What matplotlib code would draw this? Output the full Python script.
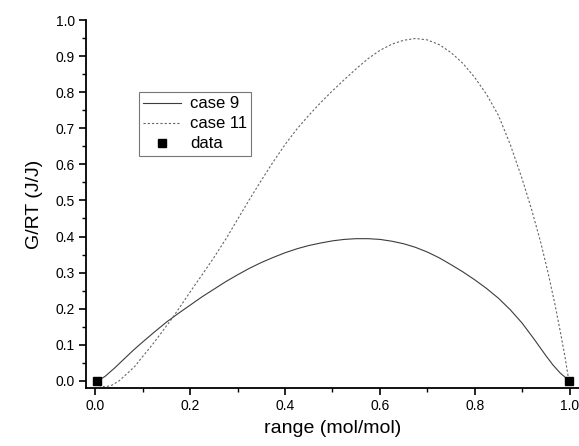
import matplotlib
matplotlib.use("Agg")
import matplotlib.pyplot as plt
from matplotlib.ticker import MultipleLocator

plt.rcParams['font.family'] = ['Liberation Sans', 'DejaVu Sans']

case9_x = [0.005, 0.02, 0.04, 0.06, 0.08, 0.1, 0.125, 0.15, 0.175, 0.2, 0.225, 0.25, 0.275,
           0.3, 0.325, 0.35, 0.375, 0.4, 0.425, 0.45, 0.475, 0.5, 0.525, 0.55, 0.575, 0.6,
           0.625, 0.65, 0.675, 0.7, 0.725, 0.75, 0.775, 0.8, 0.825, 0.85, 0.875, 0.9, 0.925,
           0.95, 0.965, 0.98, 0.995]
case9_y = [0.0, 0.012, 0.035, 0.06, 0.085, 0.108, 0.136, 0.163, 0.187, 0.21, 0.233, 0.254, 0.275,
           0.294, 0.312, 0.328, 0.342, 0.355, 0.366, 0.375, 0.382, 0.388, 0.392, 0.394, 0.394, 0.392,
           0.387, 0.38, 0.37, 0.357, 0.341, 0.322, 0.302, 0.28, 0.256, 0.229, 0.197, 0.16, 0.116,
           0.07, 0.044, 0.022, 0.005]

case11_x = [0.0, 0.01, 0.02, 0.035, 0.05, 0.065, 0.083, 0.1, 0.12, 0.14, 0.16, 0.18, 0.2, 0.225,
            0.25, 0.275, 0.3, 0.325, 0.35, 0.375, 0.4, 0.425, 0.45, 0.475, 0.5, 0.525, 0.55,
            0.575, 0.6, 0.625, 0.65, 0.675, 0.7, 0.725, 0.75, 0.775, 0.8, 0.825, 0.85, 0.875,
            0.9, 0.92, 0.94, 0.955, 0.97, 0.98, 0.99, 0.998]
case11_y = [-0.005, -0.014, -0.017, -0.012, 0.0, 0.018, 0.04, 0.068, 0.1, 0.135, 0.17, 0.208, 0.247,
            0.294, 0.342, 0.393, 0.448, 0.503, 0.556, 0.607, 0.655, 0.698, 0.736, 0.771, 0.804, 0.835, 0.865,
            0.893, 0.916, 0.933, 0.944, 0.949, 0.945, 0.932, 0.91, 0.88, 0.841, 0.794, 0.736, 0.655,
            0.56, 0.475, 0.38, 0.298, 0.207, 0.14, 0.07, 0.005]

data_x = [0.003, 0.998]
data_y = [0.0, 0.0]

fig = plt.figure(figsize=(5.79, 4.46), dpi=100)
ax = fig.add_axes([0.1485, 0.130, 0.8515, 0.825])

ax.plot(case9_x, case9_y, color='#3c3c3c', lw=0.8, label='case 9')
ax.plot(case11_x, case11_y, color='#666666', lw=0.8, linestyle=(0, (2.0, 1.8)), label='case 11')
ax.plot(data_x, data_y, linestyle='none', marker='s', color='black', markersize=6,
        label='data', clip_on=False, zorder=5)

ax.set_xlim(-0.02, 1.02)
ax.set_ylim(-0.02, 1.0)
ax.xaxis.set_major_locator(MultipleLocator(0.2))
ax.xaxis.set_minor_locator(MultipleLocator(0.1))
ax.yaxis.set_major_locator(MultipleLocator(0.1))
ax.yaxis.set_minor_locator(MultipleLocator(0.05))
ax.xaxis.set_major_formatter(plt.FormatStrFormatter('%.1f'))
ax.yaxis.set_major_formatter(plt.FormatStrFormatter('%.1f'))

for s in ['top', 'right']:
    ax.spines[s].set_visible(False)
for s in ['left', 'bottom']:
    ax.spines[s].set_linewidth(1.3)

ax.tick_params(which='major', direction='out', length=5, width=1.2, labelsize=10, pad=3)
ax.tick_params(which='minor', direction='out', length=3, width=1.0)

ax.set_xlabel('range (mol/mol)', fontsize=14, labelpad=5)
ax.set_ylabel('G/RT (J/J)', fontsize=14, labelpad=9)

leg = ax.legend(loc='upper left', bbox_to_anchor=(0.1075, 0.804), borderaxespad=0,
                fontsize=12, fancybox=False, edgecolor='#555555', handlelength=2.3,
                handletextpad=0.5, labelspacing=0.3, borderpad=0.25)
leg.get_frame().set_linewidth(0.8)

fig.savefig('out.png', dpi=100)
